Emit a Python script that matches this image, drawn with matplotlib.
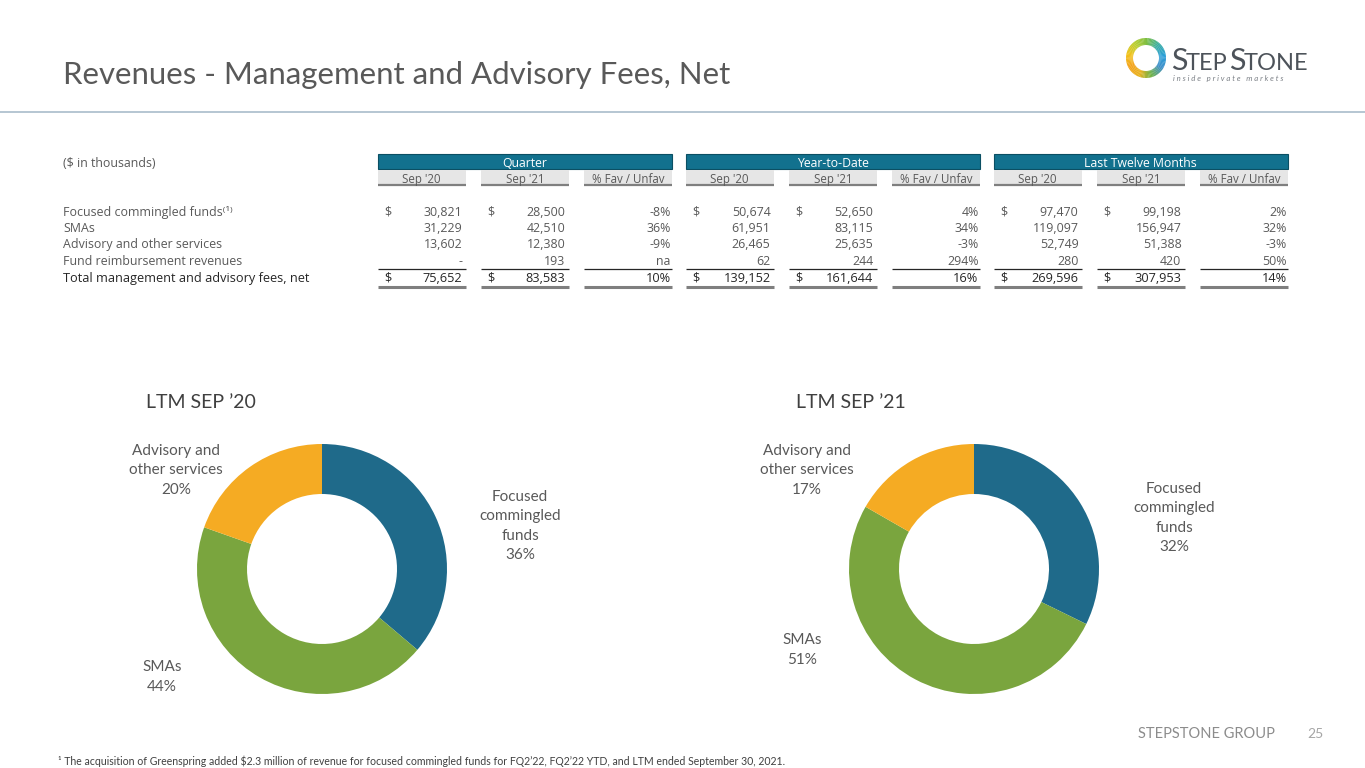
import numpy as np
import matplotlib.pyplot as plt
from matplotlib.colors import to_rgb
from matplotlib.patches import Rectangle, Wedge

# ---------------- data ----------------
row_labels = ['Focused commingled funds', 'SMAs', 'Advisory and other services',
              'Fund reimbursement revenues', 'Total management and advisory fees, net']
group_titles = ['Quarter', 'Year-to-Date', 'Last Twelve Months']
sub_titles = ["Sep '20", "Sep '21", '% Fav / Unfav']

q_sep20 = [30821, 31229, 13602, None, 75652]
q_sep21 = [28500, 42510, 12380, 193, 83583]
q_pct = ['-8%', '36%', '-9%', 'na', '10%']
ytd_sep20 = [50674, 61951, 26465, 62, 139152]
ytd_sep21 = [52650, 83115, 25635, 244, 161644]
ytd_pct = ['4%', '34%', '-3%', '294%', '16%']
ltm_sep20 = [97470, 119097, 52749, 280, 269596]
ltm_sep21 = [99198, 156947, 51388, 420, 307953]
ltm_pct = ['2%', '32%', '-3%', '50%', '14%']

pie_names = ['Focused\ncommingled\nfunds', 'SMAs', 'Advisory and\nother services']
pie_sep20 = ltm_sep20[:3]
pie_sep21 = ltm_sep21[:3]
pie_titles = ["LTM SEP \u201920", "LTM SEP \u201921"]

footnote = ("\u00b9 The acquisition of Greenspring added $2.3 million of revenue for focused "
            "commingled funds for FQ2\u201922, FQ2\u201922 YTD, and LTM ended September 30, 2021.")

# ---------------- style ----------------
plt.rcParams['font.family'] = ['Lato', 'DejaVu Sans']
TFONT = ['Open Sans', 'DejaVu Sans']   # wider face for the table
TEAL = '#12718E'
GREY_TXT = '#595959'
pie_colors = ['#1F6A8A', '#7AA53E', '#F5AB23']

W, H = 1365, 768
fig = plt.figure(figsize=(W / 100, H / 100), dpi=100)
bg = fig.add_axes([0, 0, 1, 1])
bg.set_xlim(0, W)
bg.set_ylim(H, 0)
bg.axis('off')

# title + rule
bg.text(63, 75, 'Revenues - Management and Advisory Fees, Net', fontsize=22.4,
        color=GREY_TXT, va='center', ha='left')
bg.plot([0, W], [112, 112], color='#A9BCCB', lw=1.2)

# logo
cx, cy, r_out = 1146, 58, 20
ring = ['#F4A21C', '#F2C21A', '#B9CF2F', '#7DBE43', '#3DAFA0', '#2A9FD8',
        '#3F8FC9', '#6FB24A', '#E8B21E', '#F4A21C']
n_seg = 90
for k in range(n_seg):
    t = k / n_seg * (len(ring) - 1)
    i0 = int(t)
    f = t - i0
    c0 = np.array(to_rgb(ring[i0]))
    c1 = np.array(to_rgb(ring[min(i0 + 1, len(ring) - 1)]))
    a0 = 150 + k * 360 / n_seg
    bg.add_patch(Wedge((cx, cy), r_out, a0, a0 + 360 / n_seg + 0.6, width=7,
                       color=c0 * (1 - f) + c1 * f, lw=0))
logo_col = '#4D535A'
bg.text(1171, 70, 'S', fontsize=22, color=logo_col, va='baseline', ha='left')
bg.text(1186, 70, 'TEP', fontsize=17, color=logo_col, va='baseline', ha='left')
bg.text(1229, 70, 'S', fontsize=22, color=logo_col, va='baseline', ha='left')
bg.text(1244, 70, 'TONE', fontsize=17, color=logo_col, va='baseline', ha='left')
bg.text(1173, 78, 'i n s i d e   p r i v a t e   m a r k e t s', fontsize=5.6,
        color='#7A7F85', style='italic', va='center', ha='left')

# ---------------- table ----------------
TS = 8.9        # body rows
TS_TOT = 9.2    # total row
TS_SUB = 8.3    # sub headers
TS_GRP = 8.8    # group bands
VA = 'center_baseline'
bg.text(63, 162, '($ in thousands)', fontsize=TS, color=GREY_TXT, va=VA, family=TFONT)

group_x = [378, 686, 994]
box_w, gap = 87.5, 15.5
row_y = [211, 227, 243, 260, 277]
groups = [(q_sep20, q_sep21, q_pct), (ytd_sep20, ytd_sep21, ytd_pct),
          (ltm_sep20, ltm_sep21, ltm_pct)]

for gi, gx in enumerate(group_x):
    gw = 3 * box_w + 2 * gap
    bg.add_patch(Rectangle((gx, 154), gw, 15, facecolor=TEAL, edgecolor='#0B4F63', lw=0.8))
    bg.text(gx + gw / 2, 162, group_titles[gi], fontsize=TS_GRP, color='white',
            ha='center', va=VA, family=TFONT)
    s20, s21, pct = groups[gi]
    for bi in range(3):
        bx = gx + bi * (box_w + gap)
        bg.add_patch(Rectangle((bx, 170), box_w, 14, facecolor='#E6E6E6', lw=0))
        bg.plot([bx, bx + box_w], [184.5, 184.5], color='#7F7F7F', lw=1.6,
                solid_capstyle='butt')
        bg.text(bx + box_w / 2, 178, sub_titles[bi], fontsize=TS_SUB, color=GREY_TXT,
                ha='center', va=VA, family=TFONT)
        bg.plot([bx, bx + box_w], [268.5, 268.5], color='#262626', lw=0.9,
                solid_capstyle='butt')
        bg.plot([bx, bx + box_w], [287, 287], color='#7F7F7F', lw=2.2,
                solid_capstyle='butt')
    for ri, y in enumerate(row_y):
        total = ri == len(row_y) - 1
        col = '#262626' if total else GREY_TXT
        fs = TS_TOT if total else TS
        for bi, vals in enumerate((s20, s21)):
            bx = gx + bi * (box_w + gap)
            v = vals[ri]
            txt = '-' if v is None else f'{v:,}'
            bg.text(bx + box_w - 3, y, txt, fontsize=fs, color=col, ha='right',
                    va=VA, family=TFONT)
            if ri == 0 or total:
                bg.text(bx + 6, y, '$', fontsize=fs, color=col, ha='left',
                        va=VA, family=TFONT)
        bx = gx + 2 * (box_w + gap)
        bg.text(bx + box_w - 1, y, pct[ri], fontsize=fs, color=col, ha='right',
                va=VA, family=TFONT)

for ri, y in enumerate(row_y):
    total = ri == len(row_y) - 1
    if total:
        bg.text(63, y, row_labels[ri], fontsize=TS_TOT, color='#262626', va=VA,
                family=TFONT)
    else:
        lab = row_labels[ri] + ('\u207d\u00b9\u207e' if ri == 0 else '')
        bg.text(63, y, lab, fontsize=TS, color=GREY_TXT, va=VA, family=TFONT)


# ---------------- donuts ----------------
def donut(cx, cy, r, vals, title, title_x, lab_pos):
    ax = fig.add_axes([(cx - r) / W, (H - cy - r) / H, 2 * r / W, 2 * r / H])
    ax.pie(vals, colors=pie_colors, startangle=90, counterclock=False,
           wedgeprops=dict(width=0.4, edgecolor='none'))
    ax.set_xlim(-1, 1)
    ax.set_ylim(-1, 1)
    ax.set_aspect('equal')
    bg.text(title_x, 403, title, fontsize=14, color='#404040', ha='left', va='center')
    tot = sum(vals)
    for name, v, (lx, ly) in zip(pie_names, vals, lab_pos):
        bg.text(lx, ly, f'{name}\n{v / tot:.0%}', fontsize=11, color=GREY_TXT,
                ha='center', va='center', linespacing=1.5)


donut(322, 569, 125, pie_sep20, pie_titles[0], 146,
      [(520, 526), (162, 677), (176, 470)])
donut(974, 569, 125, pie_sep21, pie_titles[1], 796,
      [(1174, 518), (802, 650), (807, 470)])

# ---------------- footer ----------------
bg.text(58, 761, footnote, fontsize=7.6, color='#404040', va='center', ha='left')
bg.text(1275, 734, 'STEPSTONE GROUP', fontsize=10.5, color='#8C8C8C', va='center',
        ha='right')
bg.text(1324, 734, '25', fontsize=10, color='#A6A6A6', va='center', ha='right')

fig.savefig('out.png', dpi=100)
